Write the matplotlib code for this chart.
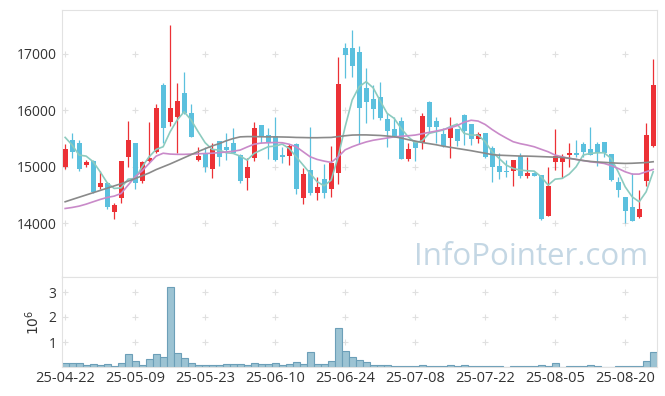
import matplotlib
matplotlib.use("Agg")
import matplotlib.pyplot as plt
import numpy as np

plt.rcParams['font.family'] = ['Open Sans', 'DejaVu Sans']

# daily prices (trading-day index 0..84)
opens = [15000, 15473, 15426, 15030, 15101, 14645, 14704, 14201, 14450, 15177,
         15414, 14746, 15101, 15266, 16450, 15799, 15888, 16314, 15947, 15118,
         15237, 14953, 15456, 15349, 15414, 15207, 14793, 15148, 15740, 15562,
         15544, 15207, 15195, 15402, 14450, 14941, 14538, 14781, 14604, 14893,
         17112, 17112, 17041, 16390, 16201, 16231, 15846, 15669, 15811, 15136,
         15462, 15414, 16154, 15811, 15580, 15503, 15663, 15917, 15757, 15497,
         15592, 15330, 15012, 14917, 14929, 15189, 14840, 14893, 14852, 14130,
         15089, 15089, 15207, 15248, 15402, 15314, 15402, 15438, 15225, 14734,
         14467, 14290, 14112, 14751, 15367]
highs = [15396, 15592, 15473, 15118, 15118, 14929, 14734, 14349, 15110, 15811,
         15426, 15100, 15787, 16112, 16491, 17515, 16479, 16674, 16106, 15355,
         15355, 15414, 15456, 15592, 15680, 15225, 15160, 15799, 15740, 15692,
         15888, 15355, 15402, 15426, 14970, 15710, 14822, 15041, 15367, 16953,
         17201, 17426, 17142, 16745, 16450, 16509, 15947, 15888, 15888, 15414,
         15462, 15947, 16160, 15888, 15680, 15876, 15663, 15930, 15760, 15621,
         15600, 15360, 15237, 15118, 15118, 15237, 15177, 14900, 14860, 15000,
         15663, 15225, 15414, 15473, 15444, 15710, 15444, 15440, 15230, 14822,
         14467, 14893, 14586, 15769, 16905]
lows = [14953, 15148, 14929, 15000, 14527, 14598, 14243, 14065, 14361, 15000,
        14598, 14704, 15080, 15250, 15414, 15722, 15237, 15935, 15520, 15110,
        14911, 14805, 15018, 15118, 15240, 14704, 14586, 15101, 15414, 15130,
        15110, 15071, 15030, 14509, 14337, 14497, 14408, 14438, 14467, 14686,
        16568, 16586, 15402, 15769, 15840, 15828, 15343, 15520, 15130, 15106,
        15100, 15308, 15592, 15414, 15355, 15148, 15373, 15385, 15385, 15414,
        15160, 14722, 14781, 14822, 14663, 14793, 14793, 14830, 14060, 14120,
        14941, 14793, 15000, 15177, 15166, 15200, 15018, 15177, 14750, 14456,
        14006, 14030, 14100, 14657, 15355]
closes = [15308, 15266, 14959, 15089, 14556, 14716, 14290, 14320, 15101, 15473,
          14704, 15089, 15160, 16035, 15680, 16035, 16166, 15947, 15532, 15189,
          15000, 15308, 15177, 15302, 15248, 14751, 15000, 15680, 15550, 15414,
          15118, 15177, 15367, 14604, 14870, 14538, 14633, 14527, 15071, 16467,
          16982, 16793, 16035, 16142, 16018, 15870, 15639, 15532, 15136, 15314,
          15337, 15899, 15710, 15710, 15373, 15692, 15456, 15639, 15485, 15574,
          15177, 15000, 14911, 14900, 15118, 14840, 14893, 14840, 14071, 14663,
          15189, 15160, 15248, 15207, 15266, 15207, 15248, 15248, 14763, 14586,
          14219, 14041, 14249, 15562, 16450]
ma5 = [15521, 15385, 15207, 15189, 15089, 14911, 14716, 14615, 14627, 14781,
       14793, 15000, 15177, 15308, 15355, 15621, 15828, 15976, 15828, 15621,
       15426, 15308, 15296, 15248, 15237, 15189, 15118, 15237, 15296, 15355,
       15367, 15402, 15325, 15177, 15030, 14882, 14734, 14663, 14763, 15177,
       15710, 16183, 16420, 16509, 16400, 16170, 15947, 15858, 15680, 15532,
       15426, 15461, 15592, 15621, 15651, 15710, 15757, 15592, 15562, 15562,
       15444, 15266, 15148, 15030, 14970, 14941, 14929, 14923, 14822, 14675,
       14780, 14793, 14870, 15000, 15207, 15237, 15248, 15248, 15148, 14911,
       14645, 14467, 14379, 14556, 14911]
ma20 = [14260, 14278, 14302, 14337, 14379, 14420, 14456, 14479, 14527, 14675,
        14822, 14929, 15059, 15189, 15240, 15225, 15220, 15220, 15225, 15230,
        15235, 15240, 15250, 15262, 15275, 15296, 15350, 15400, 15420, 15426,
        15430, 15426, 15400, 15355, 15266, 15177, 15130, 15100, 15077, 15177,
        15300, 15355, 15400, 15440, 15470, 15490, 15510, 15530, 15540, 15550,
        15562, 15585, 15610, 15633, 15660, 15690, 15730, 15790, 15825, 15810,
        15750, 15660, 15580, 15510, 15444, 15410, 15385, 15355, 15310, 15266,
        15207, 15177, 15150, 15130, 15110, 15089, 15075, 15059, 15020, 14970,
        14911, 14870, 14870, 14911, 14953]
ma60 = [14379, 14420, 14460, 14500, 14540, 14580, 14620, 14660, 14700, 14745,
        14790, 14840, 14890, 14950, 15000, 15050, 15105, 15160, 15215, 15270,
        15320, 15370, 15410, 15460, 15500, 15530, 15535, 15535, 15532, 15530,
        15530, 15528, 15525, 15520, 15518, 15515, 15515, 15518, 15520, 15535,
        15550, 15562, 15565, 15565, 15560, 15555, 15545, 15532, 15510, 15480,
        15456, 15430, 15410, 15390, 15365, 15345, 15325, 15305, 15285, 15262,
        15240, 15215, 15205, 15200, 15195, 15190, 15189, 15185, 15180, 15175,
        15170, 15166, 15150, 15130, 15110, 15095, 15085, 15078, 15070, 15063,
        15059, 15062, 15068, 15075, 15089]
# volume in millions
volume = [0.16, 0.16, 0.16, 0.08, 0.12, 0.08, 0.12, 0.04, 0.16, 0.51,
          0.24, 0.08, 0.32, 0.51, 0.39, 3.21, 0.55, 0.36, 0.16, 0.08,
          0.08, 0.08, 0.08, 0.12, 0.12, 0.12, 0.08, 0.16, 0.12, 0.12,
          0.16, 0.08, 0.12, 0.20, 0.12, 0.59, 0.12, 0.12, 0.24, 1.58,
          0.64, 0.39, 0.29, 0.20, 0.08, 0.08, 0.08, 0.04, 0.04, 0.04,
          0.04, 0.08, 0.04, 0.04, 0.04, 0.08, 0.04, 0.08, 0.04, 0.04,
          0.04, 0.04, 0.04, 0.005, 0.04, 0.04, 0.04, 0.04, 0.08, 0.04,
          0.16, 0.005, 0.04, 0.04, 0.04, 0.08, 0.04, 0.005, 0.005, 0.04,
          0.04, 0.04, 0.04, 0.24, 0.59]
tick_labels = ['25-04-22', '25-05-09', '25-05-23', '25-06-10', '25-06-24',
               '25-07-08', '25-07-22', '25-08-05', '25-08-20']

UP = '#ec3136'
DOWN = '#5bc0de'
GRID = '#e0e0e0'

o = np.array(opens)
c = np.array(closes)
x = np.arange(len(o))
colors = [UP if cc >= oo else DOWN for oo, cc in zip(o, c)]

fig = plt.figure(figsize=(6.65, 3.96), dpi=100)
ax = fig.add_axes([62/665, 1-277/396, 595/665, 267/396])
axv = fig.add_axes([62/665, 1-367/396, 595/665, 90/396])

# candles
ax.vlines(x, lows, highs, colors=colors, linewidth=0.9, zorder=2)
bottom = np.minimum(o, c)
height = np.maximum(np.abs(c - o), 12)
ax.bar(x, height, 0.72, bottom=bottom, color=colors, linewidth=0, zorder=3)

ax.plot(x, ma5, color='#8ccbbf', lw=1.2, zorder=4)
ax.plot(x, ma20, color='#c98ac9', lw=1.2, zorder=4)
ax.plot(x, ma60, color='#8a8a8a', lw=1.2, zorder=4)

ax.set_xlim(-0.45, 84.55)
ax.set_ylim(13045, 17780)
ax.set_yticks([14000, 15000, 16000, 17000])
ax.set_xticks(range(0, 81, 10))
ax.set_xticklabels([])
xs, ys = np.meshgrid(range(0, 81, 10), [14000, 15000, 16000, 17000])
ax.scatter(xs.ravel(), ys.ravel(), marker='+', s=14, color=GRID, lw=0.8, zorder=1)
ax.text(0.985, 0.045, 'InfoPointer.com', transform=ax.transAxes, ha='right',
        va='baseline', fontsize=22.5, color='#c4d7e4', zorder=0)

# volume
axv.bar(x, volume, 1.0, color='#9cc3d3', edgecolor='#6c9fb8', linewidth=0.8)
axv.set_xlim(-0.45, 84.55)
axv.set_ylim(0, 3.6)
axv.set_yticks([1, 2, 3])
axv.set_yticklabels(['1', '2', '3'])
axv.set_xticks(range(0, 81, 10))
axv.set_xticklabels(tick_labels)
xs, ys = np.meshgrid(range(0, 81, 10), [1, 2, 3])
axv.scatter(xs.ravel(), ys.ravel(), marker='+', s=14, color=GRID, lw=0.8, zorder=0)
axv.set_ylabel(r'$10^6$', fontsize=10, color='#333333', labelpad=4)

for a in (ax, axv):
    for s in a.spines.values():
        s.set_color('#e2e2e2')
    a.tick_params(length=0, labelsize=10, colors='#333333', pad=4)
axv.tick_params(axis='x', labelsize=10.5, pad=3)

fig.savefig('out.png', dpi=100)
